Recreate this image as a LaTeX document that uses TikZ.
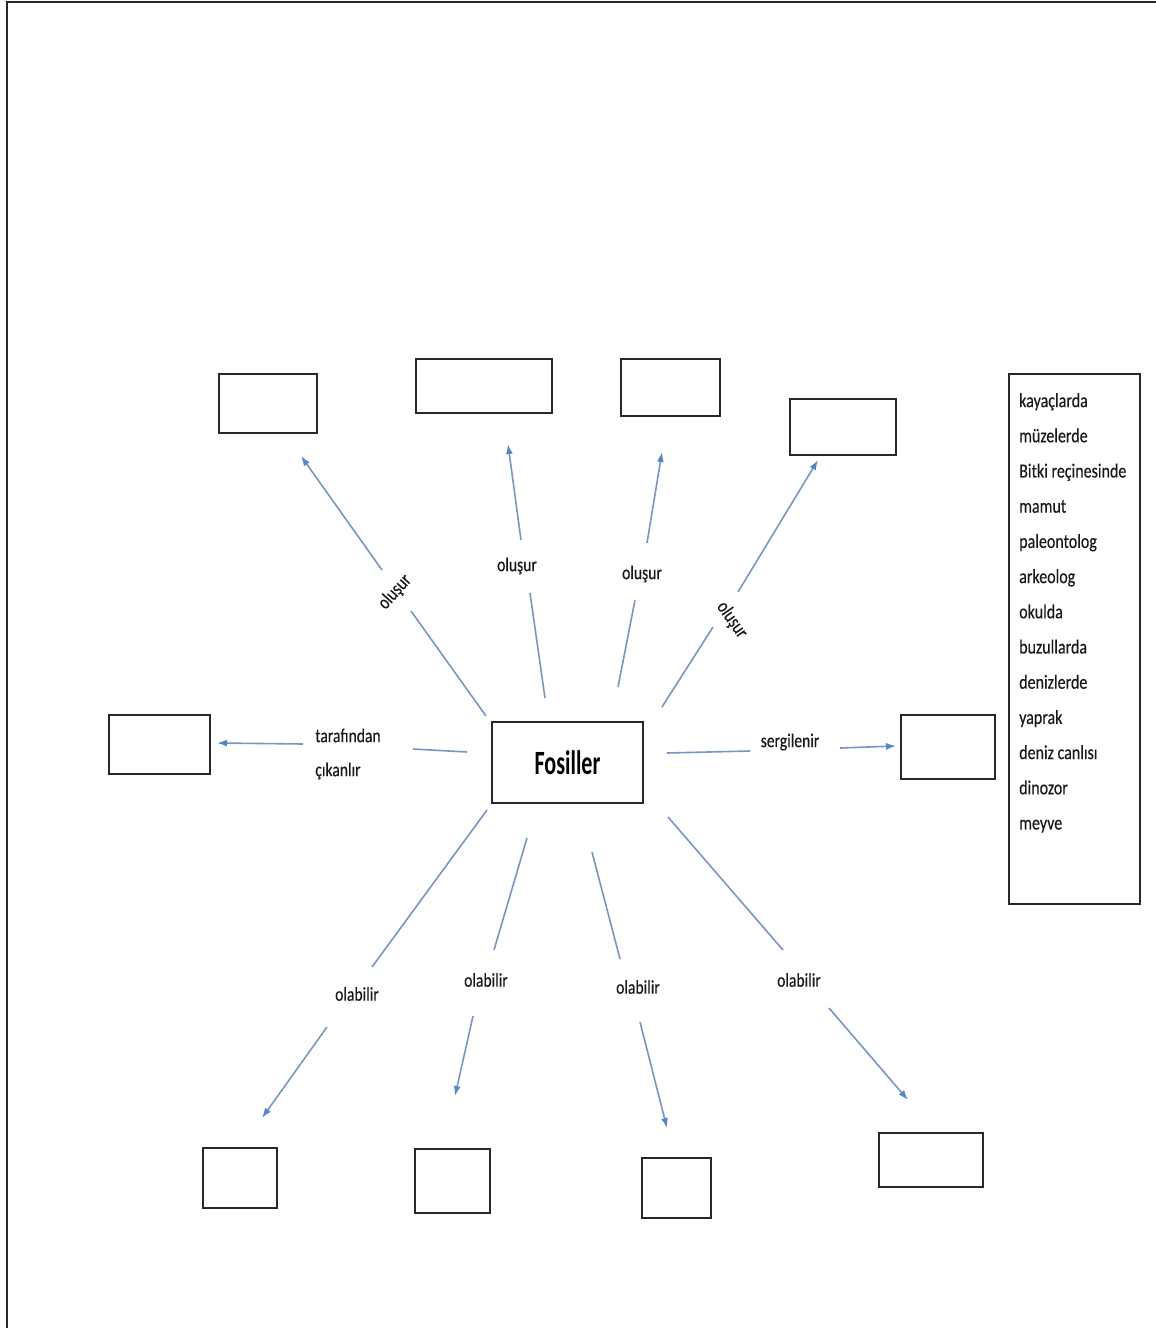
\documentclass[tikz,border=0pt]{standalone}
\usepackage{fontspec}
\setmainfont{Carlito}[FakeStretch=0.8,FakeBold=0.3]
\newfontfamily\bigfont{Carlito}[FakeStretch=0.65]
\usetikzlibrary{arrows.meta}
\definecolor{lineblue}{RGB}{120,150,195}
\definecolor{tipblue}{RGB}{80,135,205}
\definecolor{boxline}{RGB}{40,40,40}
\begin{document}
\begin{tikzpicture}[x=1pt,y=1pt,
  box/.style={draw=boxline,line width=1.8pt,inner sep=0pt},
  lab/.style={font=\fontsize{19.5}{34}\selectfont,inner sep=1pt,text=black!90},
  seg/.style={draw=lineblue,line width=1.6pt},
  arr/.style={seg,-{Latex[length=10pt,width=7pt,color=tipblue]}}]
\useasboundingbox (0,0) rectangle (1156,-1328);
\fill[white] (0,0) rectangle (1156,-1328);
% outer frame
\draw[boxline,line width=2pt] (7,-1328) -- (7,-2) -- (1156,-2);

% boxes
\node[box,minimum width=98,minimum height=59] (t1) at (268,-403.5) {};
\node[box,minimum width=136,minimum height=54] (t2) at (484,-386) {};
\node[box,minimum width=99,minimum height=57] (t3) at (670.5,-387.5) {};
\node[box,minimum width=106,minimum height=56] (t4) at (843,-427) {};
\node[box,minimum width=101,minimum height=59] (lb) at (159.5,-744.5) {};
\node[box,minimum width=151,minimum height=81,font=\bigfont\fontsize{34}{40}\selectfont\bfseries] (fos) at (567.5,-762.5) {Fosiller};
\node[box,minimum width=94,minimum height=64] (rb) at (948,-747) {};
\node[box,minimum width=131,minimum height=530] (list) at (1074.5,-639) {};
\node[box,minimum width=74,minimum height=60] (b1) at (240,-1178) {};
\node[box,minimum width=75,minimum height=64] (b2) at (452.5,-1181) {};
\node[box,minimum width=69,minimum height=60] (b3) at (676.5,-1188) {};
\node[box,minimum width=104,minimum height=54] (b4) at (931,-1160) {};

% word list
\node[anchor=north west,inner sep=0pt,align=left,font=\fontsize{20}{35.2}\selectfont,text=black!90] (words) at (1019,-393)
 {kayaçlarda\\müzelerde\\Bitki reçinesinde\\mamut\\paleontolog\\arkeolog\\okulda\\buzullarda\\denizlerde\\yaprak\\deniz canlısı\\dinozor\\meyve};

% labels
\node[lab,rotate=48] (l1) at (395,-592) {oluşur};
\node[lab] (l2) at (517,-566) {oluşur};
\node[lab] (l3) at (642,-574) {oluşur};
\node[lab,rotate=-55] (l4) at (732,-620) {oluşur};
\node[lab,align=left,font=\fontsize{19.5}{34}\selectfont] (ll) at (348,-754) {tarafından\\çıkanlır};
\node[lab] (lr) at (790,-742) {sergilenir};
\node[lab] (m1) at (357,-994) {olabilir};
\node[lab] (m2) at (486,-980) {olabilir};
\node[lab] (m3) at (638,-987) {olabilir};
\node[lab] (m4) at (799,-980) {olabilir};

% connector points
\coordinate (t1a) at (486,-716); \coordinate (t1b) at (411,-611);
\coordinate (t1c) at (382,-570); \coordinate (t1d) at (301,-456);
\coordinate (t2a) at (545,-698); \coordinate (t2b) at (530,-593);
\coordinate (t2c) at (521,-540); \coordinate (t2d) at (508,-444);
\coordinate (t3a) at (618,-687); \coordinate (t3b) at (635,-600);
\coordinate (t3c) at (647,-543); \coordinate (t3d) at (662,-452);
\coordinate (t4a) at (662,-707); \coordinate (t4b) at (713,-627);
\coordinate (t4c) at (738,-592); \coordinate (t4d) at (818,-460);
\coordinate (la) at (467,-752); \coordinate (lbp) at (413,-749);
\coordinate (lc) at (303,-744); \coordinate (ld) at (217,-743);
\coordinate (ra) at (667,-753); \coordinate (rbp) at (750,-751);
\coordinate (rc) at (840,-748); \coordinate (rd) at (896,-746);
\coordinate (b1a) at (487,-810); \coordinate (b1b) at (372,-967);
\coordinate (b1c) at (327,-1027); \coordinate (b1d) at (262,-1118);
\coordinate (b2a) at (527,-838); \coordinate (b2b) at (494,-950);
\coordinate (b2c) at (473,-1016); \coordinate (b2d) at (455,-1096);
\coordinate (b3a) at (592,-852); \coordinate (b3b) at (620,-959);
\coordinate (b3c) at (640,-1022); \coordinate (b3d) at (667,-1128);
\coordinate (b4a) at (668,-817); \coordinate (b4b) at (783,-950);
\coordinate (b4c) at (829,-1008); \coordinate (b4d) at (908,-1100);

% connectors
\foreach \p in {t1,t2,t3,t4,b1,b2,b3,b4}{
  \draw[seg] (\p a) -- (\p b);
  \draw[arr] (\p c) -- (\p d);
}
\draw[seg] (la) -- (lbp);
\draw[arr] (lc) -- (ld);
\draw[seg] (ra) -- (rbp);
\draw[arr] (rc) -- (rd);
\end{tikzpicture}
\end{document}
